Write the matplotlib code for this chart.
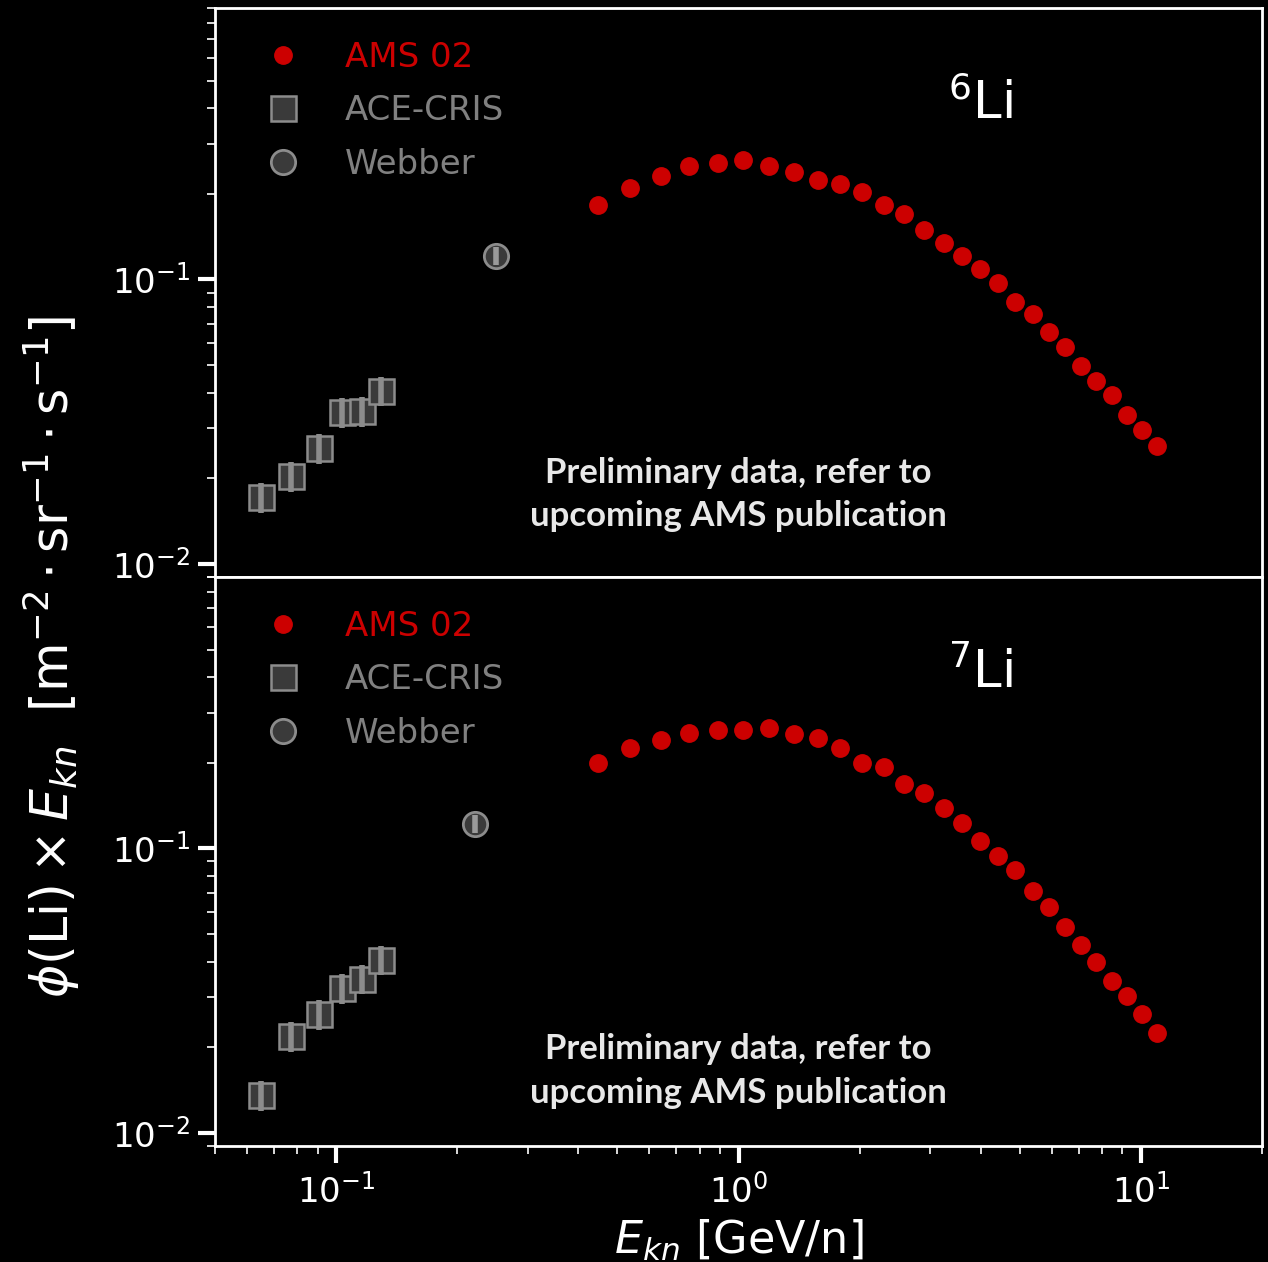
import matplotlib
matplotlib.use("Agg")
import matplotlib.pyplot as plt
import numpy as np

# AMS 02, 6Li
ams6_e = [0.448, 0.538, 0.641, 0.755, 0.888, 1.029, 1.194, 1.377, 1.577, 1.788,
          2.027, 2.299, 2.582, 2.894, 3.239, 3.603, 3.979, 4.418, 4.877, 5.386,
          5.912, 6.478, 7.099, 7.733, 8.460, 9.216, 10.04, 10.94]
ams6_f = [0.182, 0.209, 0.231, 0.250, 0.256, 0.263, 0.250, 0.239, 0.224, 0.216,
          0.203, 0.182, 0.170, 0.149, 0.134, 0.121, 0.109, 0.0974, 0.0831, 0.0759,
          0.0653, 0.0580, 0.0495, 0.0439, 0.0393, 0.0335, 0.0295, 0.0260]
# AMS 02, 7Li
ams7_e = ams6_e
ams7_f = [0.200, 0.225, 0.241, 0.254, 0.261, 0.261, 0.266, 0.253, 0.244, 0.225,
          0.200, 0.193, 0.169, 0.157, 0.139, 0.123, 0.106, 0.0943, 0.0837, 0.0706,
          0.0621, 0.0528, 0.0459, 0.0400, 0.0341, 0.0302, 0.0261, 0.0224]

# ACE-CRIS
ace_e = [0.0651, 0.0773, 0.0909, 0.1033, 0.1162, 0.1295]
ace6_f = [0.0172, 0.0203, 0.0255, 0.0341, 0.0345, 0.0407]
ace7_f = [0.0136, 0.0219, 0.0262, 0.0322, 0.0349, 0.0407]
ace_relerr = [0.12, 0.12, 0.12, 0.12, 0.12, 0.12]

# Webber
web6_e = [0.249]
web6_f = [0.1213]
web7_e = [0.222]
web7_f = [0.1221]
web_relerr = [0.075]

labels = ["AMS 02", "ACE-CRIS", "Webber"]
isotopes = [r"$^{6}$Li", r"$^{7}$Li"]
prelim = "Preliminary data, refer to\nupcoming AMS publication"

red = "#cc0000"
gedge = "#8c8c8c"
gfill = "#3a3a3a"

fig = plt.figure(figsize=(12.68, 12.62), dpi=100, facecolor="black")
ax_top = fig.add_axes([0.16956, 0.54279, 0.82571, 0.45087])
ax_bot = fig.add_axes([0.16956, 0.09192, 0.82571, 0.45087])

panels = [
    (ax_top, ams6_e, ams6_f, ace6_f, web6_e, web6_f, isotopes[0], 0.145),
    (ax_bot, ams7_e, ams7_f, ace7_f, web7_e, web7_f, isotopes[1], 0.132),
]

for ax, ae, af, cf, we, wf, iso, ty in panels:
    ax.set_facecolor("black")
    ax.set_xscale("log")
    ax.set_yscale("log")
    ax.set_xlim(0.05, 20)
    ax.set_ylim(0.009, 0.9)
    for s in ax.spines.values():
        s.set_color("white")
        s.set_linewidth(2)

    h1, = ax.plot(ae, af, "o", color=red, ms=12.5, mec=red, zorder=4)

    cerr = np.array(cf) * np.array(ace_relerr)
    h2, = ax.plot(ace_e, cf, "s", ms=18, mfc=gfill, mec=gedge, mew=1.8, zorder=3)
    ax.errorbar(ace_e, cf, yerr=cerr, fmt="none", ecolor=gedge, elinewidth=4, zorder=3.5)

    werr = np.array(wf) * np.array(web_relerr)
    h3, = ax.plot(we, wf, "o", ms=17.5, mfc=gfill, mec=gedge, mew=2, zorder=3)
    ax.errorbar(we, wf, yerr=werr, fmt="none", ecolor="#9a9a9a", elinewidth=4, zorder=3.5)

    ax.legend([h1, h2, h3], labels, loc="upper left", bbox_to_anchor=(0.0357, 0.966),
              frameon=False, fontsize=24.5, handlelength=1.0, handletextpad=1.32,
              labelspacing=0.6, labelcolor=[red, "#808080", "#808080"], borderaxespad=0)

    ax.text(0.700, 0.83, iso, transform=ax.transAxes, color="white", fontsize=37,
            ha="left", va="center")
    ax.text(0.5, ty, prelim, transform=ax.transAxes, color="#e8e8e8",
            fontsize=25, fontweight="bold", family="Lato", ha="center", va="center",
            linespacing=1.45)

    ax.tick_params(axis="y", which="major", direction="out", length=12, width=3,
                   colors="white", labelsize=24.5, pad=6)
    ax.tick_params(axis="y", which="minor", direction="out", length=6, width=1.2,
                   colors="white")

ax_top.tick_params(axis="x", which="both", bottom=False, labelbottom=False)
ax_bot.tick_params(axis="x", which="major", direction="out", length=12, width=3,
                   colors="white", labelsize=24.5, pad=8)
ax_bot.tick_params(axis="x", which="minor", direction="out", length=6, width=1.2,
                   colors="white")

ax_bot.set_xlabel(r"$E_{kn}$ [GeV/n]", color="white", fontsize=32, labelpad=6)
fig.text(0.040, 1 - 657 / 1262,
         r"$\phi(\mathrm{Li})\times E_{kn}$  $[\mathrm{m}^{-2}\cdot\mathrm{sr}^{-1}\cdot\mathrm{s}^{-1}]$",
         rotation=90, color="white", fontsize=36.5, ha="center", va="center")

fig.savefig("out.png", dpi=100, facecolor="black")
